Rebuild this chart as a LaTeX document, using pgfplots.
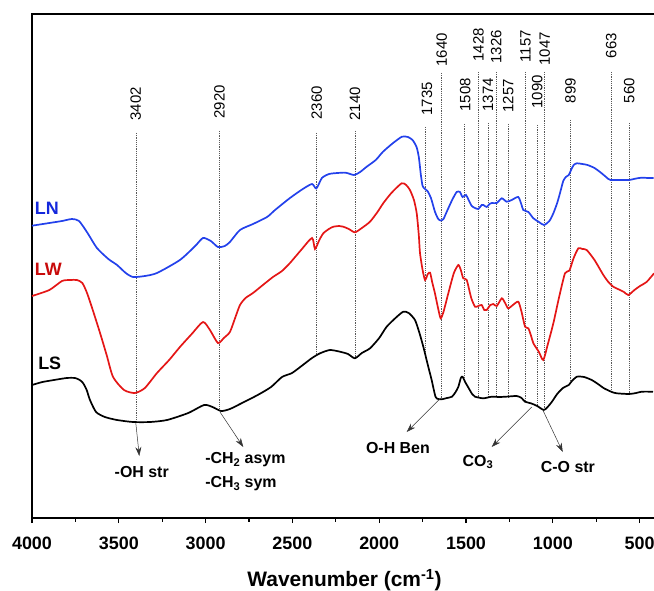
\documentclass[border=0pt]{standalone}
\usepackage{pgfplots}
\pgfplotsset{compat=1.18}
\usepackage{fontspec}
\setmainfont{Liberation Sans}
\usetikzlibrary{arrows.meta}
\definecolor{lnblue}{RGB}{35,65,235}
\definecolor{lwred}{RGB}{228,22,22}
\definecolor{lnlab}{RGB}{20,40,220}
\definecolor{lwlab}{RGB}{200,10,10}
\tikzset{
  dots/.style={gray!70!black, line width=0.5bp, dash pattern=on 1.2bp off 1bp},
  num/.style={rotate=90, anchor=east, inner sep=0pt, font=\fontsize{15}{15}\selectfont},
  ann/.style={font=\bfseries\fontsize{16}{16}\selectfont, inner sep=0pt},
  arr/.style={-{Stealth[length=9bp,width=6bp]}, line width=0.5bp, black!80},
}
\begin{document}
\begin{tikzpicture}
\begin{axis}[
  scale only axis, width=625bp, height=504bp,
  at={(0,0)}, anchor=south west,
  xmin=400, xmax=4000, x dir=reverse,
  ymin=14, ymax=518, y dir=reverse,
  ytick=\empty,
  xtick={500,1000,...,4000},
  minor x tick num=1,
  xtick pos=left,
  tick align=outside,
  major tick length=5bp, minor tick length=3.5bp,
  axis line style={line width=1.6bp},
  every tick/.style={black, line width=1.2bp},
  /pgf/number format/assume math mode=true,
  /pgf/number format/1000 sep={},
  xticklabel style={font=\bfseries\fontsize{18}{18}\selectfont, yshift=-10bp},
  clip=false,
]
% dotted marker lines
\addplot[dots] coordinates {(3402,133) (3402,422)};
\addplot[dots] coordinates {(2920,131) (2920,411)};
\addplot[dots] coordinates {(2360,133) (2360,356)};
\addplot[dots] coordinates {(2140,131) (2140,358)};
\addplot[dots] coordinates {(1735,127) (1735,352)};
\addplot[dots] coordinates {(1508,124) (1508,382)};
\addplot[dots] coordinates {(1374,123) (1374,397)};
\addplot[dots] coordinates {(1257,124) (1257,397)};
\addplot[dots] coordinates {(1090,125) (1090,406)};
\addplot[dots] coordinates {(899,120) (899,383)};
\addplot[dots] coordinates {(560,123) (560,394)};
\addplot[dots] coordinates {(1640,73) (1640,399)};
\addplot[dots] coordinates {(1428,72) (1428,397)};
\addplot[dots] coordinates {(1326,72) (1326,397)};
\addplot[dots] coordinates {(1157,72) (1157,402)};
\addplot[dots] coordinates {(1047,72) (1047,410)};
\addplot[dots] coordinates {(663,72) (663,392)};

% LN
\addplot[lnblue, line width=1.7bp, smooth, tension=0.4] coordinates {
(4000,225.7) (3900,223) (3827,221) (3770,219) (3729,221) (3680,233) (3626,248) (3560,259) (3510,265) (3460,273) (3418,277) (3350,276) (3280,273) (3148,260) (3060,246) (3015,238) (2970,241) (2929,247) (2890,246) (2860,242) (2802,230) (2727,224) (2646,217) (2600,210) (2514,198) (2440,189) (2387,184) (2362,188.5) (2330,178) (2289,174) (2240,173) (2193,172.7) (2145,175) (2110,172) (2072,166.7) (2020,160) (1978,151.7) (1920,143) (1869,136.7) (1835,137) (1808,140) (1785,147) (1772,157) (1760,175) (1750,186) (1736,189) (1722,191) (1702,198) (1679,211.7) (1660,219) (1645,220.5) (1630,219) (1611,211.7) (1580,200) (1554,192) (1535,192) (1520,197) (1500,195) (1485,200) (1467,206) (1448,208) (1429,209) (1410,205) (1400,205) (1381,207) (1365,204) (1352,203) (1323,203) (1294,198.3) (1266,201.7) (1237,200) (1199,197) (1180,205) (1170,210) (1141,212) (1112,218.3) (1080,222) (1051,225) (1020,221) (997,213.3) (975,203) (959,193.3) (940,181) (925,177) (908,175) (895,170) (880,165) (861,163.3) (830,164) (800,165) (760,168) (728,172) (700,176) (680,179) (668,180) (640,180) (609,180) (561,180) (520,178.5) (488,177.7) (450,178) (420,178)};

% LW
\addplot[lwred, line width=1.7bp, smooth, tension=0.4] coordinates {
(4000,296) (3900,290) (3827,281) (3780,280) (3741,280) (3710,283) (3683,293) (3650,310) (3608,333) (3570,355) (3533,377) (3470,390) (3407,393) (3350,388) (3280,373) (3210,360) (3148,347) (3080,334) (3015,322) (2975,330) (2929,343) (2895,338) (2860,332) (2830,318) (2802,305) (2770,298) (2727,293) (2670,285) (2612,277) (2560,271) (2514,263) (2450,250) (2387,238) (2370,249) (2345,240) (2322,233.3) (2290,229) (2264,226.7) (2230,226) (2207,226.7) (2175,229) (2140,232.3) (2100,228) (2053,221.7) (2010,212) (1977,203.3) (1930,193) (1871,183.3) (1845,185) (1823,190) (1800,200) (1784,213.3) (1772,235) (1765,253.3) (1750,270) (1736,280) (1720,274) (1707,272.7) (1695,282) (1679,293.3) (1660,309) (1646,318.3) (1630,312) (1602,293.3) (1570,273) (1544,265) (1530,270) (1516,278.3) (1496,280) (1470,298) (1448,306.7) (1430,306) (1410,305) (1395,310) (1381,310) (1360,305) (1343,304) (1323,306) (1294,298.3) (1275,303) (1257,308.3) (1230,305) (1199,301.7) (1180,312) (1160,326.7) (1141,328.3) (1125,336) (1112,343.3) (1080,352) (1055,360) (1030,345) (997,323.3) (965,298) (930,273.3) (905,270.7) (880,258) (853,248.3) (830,249) (805,250) (760,260) (709,275) (680,282) (652,286.7) (613,290) (590,292) (565,295) (530,290) (498,286) (460,282) (417,273.3)};

% LS
\addplot[black, line width=1.7bp, smooth, tension=0.4] coordinates {
(4000,385) (3940,382) (3873,380) (3800,378) (3752,378) (3725,380) (3706,383) (3685,390) (3666,400) (3631,412) (3580,417) (3510,420) (3418,422) (3320,422) (3222,420) (3100,413) (3009,405) (2960,407) (2911,411) (2860,409) (2790,403) (2700,395) (2623,387) (2560,377) (2502,373) (2440,365) (2387,358) (2341,353.3) (2284,350) (2226,351.7) (2180,354) (2140,358.3) (2100,353) (2053,348.3) (2000,338) (1957,326.7) (1900,317) (1861,311.7) (1830,313) (1794,320) (1770,332) (1746,346.7) (1720,365) (1698,380) (1676,396.7) (1660,399) (1640,399.3) (1610,398) (1581,396.7) (1560,392) (1544,386.7) (1530,378) (1520,376.7) (1505,382) (1484,388.3) (1465,394) (1448,396.7) (1400,398.3) (1352,396.7) (1310,397) (1270,396.7) (1208,396) (1180,398) (1160,401.7) (1126,403.3) (1090,406) (1052,410) (1030,407) (1005,401.7) (975,394) (944,388.3) (920,386) (908,385) (890,381) (861,376.7) (820,377) (776,380) (740,384) (705,388.3) (660,392) (632,393.3) (561,394) (520,393) (488,391.7) (423,391.7)};

% peak numbers (top of text at given y)
\node[num] at (axis cs:3402,87) {3402};
\node[num] at (axis cs:2920,85) {2920};
\node[num] at (axis cs:2360,86) {2360};
\node[num] at (axis cs:2140,87) {2140};
\node[num] at (axis cs:1725,82) {1735};
\node[num] at (axis cs:1505,78) {1508};
\node[num] at (axis cs:1374,78) {1374};
\node[num] at (axis cs:1257,79) {1257};
\node[num] at (axis cs:1090,75) {1090};
\node[num] at (axis cs:899,78) {899};
\node[num] at (axis cs:560,78) {560};
\node[num] at (axis cs:1640,33) {1640};
\node[num] at (axis cs:1428,28) {1428};
\node[num] at (axis cs:1326,30) {1326};
\node[num] at (axis cs:1157,30) {1157};
\node[num] at (axis cs:1047,32) {1047};
\node[num] at (axis cs:663,33) {663};

% series labels
\node[anchor=west, inner sep=0pt, font=\bfseries\fontsize{18}{18}\selectfont, text=lnlab] at (axis cs:3985,208) {LN};
\node[anchor=west, inner sep=0pt, font=\bfseries\fontsize{18}{18}\selectfont, text=lwlab] at (axis cs:3985,269) {LW};
\node[anchor=west, inner sep=0pt, font=\bfseries\fontsize{18}{18}\selectfont, text=black] at (axis cs:3965,363) {LS};

% arrows
\draw[arr] (axis cs:3402,423) -- (axis cs:3382,456);
\draw[arr] (axis cs:2917,412) -- (axis cs:2783,447);
\draw[arr] (axis cs:1646,398) -- (axis cs:1842,432);
\draw[arr] (axis cs:1122,407) -- (axis cs:1352,447);
\draw[arr] (axis cs:1055,411) -- (axis cs:943,452);

% annotations
\node[ann] at (axis cs:3368,472) {-OH str};
\node[ann, anchor=west] at (axis cs:3003,460) {-CH\textsubscript{2} asym};
\node[ann, anchor=west] at (axis cs:3003,484) {-CH\textsubscript{3} sym};
\node[ann] at (axis cs:1892,448) {O-H Ben};
\node[ann] at (axis cs:1431,462) {CO\textsubscript{3}};
\node[ann] at (axis cs:913,467) {C-O str};
\end{axis}
\node[font=\bfseries\fontsize{21}{21}\selectfont, inner sep=0pt] at (312.5bp,-62bp) {Wavenumber (cm\textsuperscript{-1})};
\pgfresetboundingbox
\path[use as bounding box] (-32bp,-73bp) rectangle (622bp,518bp);
\end{tikzpicture}
\end{document}
